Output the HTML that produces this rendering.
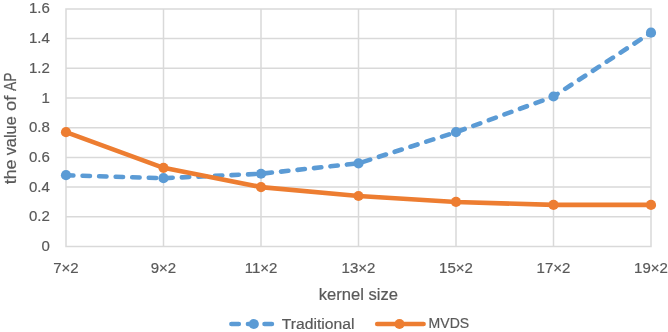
<!DOCTYPE html>
<html><head><meta charset="utf-8"><style>
html,body{margin:0;padding:0;background:#fff;width:668px;height:332px;overflow:hidden}
svg{display:block;will-change:transform}
text{font-family:"Liberation Sans",sans-serif;fill:#595959;stroke:#595959;stroke-width:0.2px}
.t15{font-size:15px}
.t16{font-size:16.6px}
.t17{font-size:17px}
.t155{font-size:15.5px}
</style></head><body>
<svg width="668" height="332" viewBox="0 0 668 332">
<rect width="668" height="332" fill="#fff"/>
<path d="M65.25 246.50H651.75 M65.25 216.80H651.75 M65.25 187.10H651.75 M65.25 157.40H651.75 M65.25 127.70H651.75 M65.25 98.00H651.75 M65.25 68.30H651.75 M65.25 38.60H651.75 M65.25 8.90H651.75 M66.00 8.90V246.50 M163.50 8.90V246.50 M261.00 8.90V246.50 M358.50 8.90V246.50 M456.00 8.90V246.50 M553.50 8.90V246.50 M651.00 8.90V246.50" stroke="#D9D9D9" stroke-width="1.5" fill="none"/>
<text x="49.8" y="251.00" text-anchor="end" class="t15">0</text>
<text x="49.8" y="221.30" text-anchor="end" class="t15">0.2</text>
<text x="49.8" y="191.60" text-anchor="end" class="t15">0.4</text>
<text x="49.8" y="161.90" text-anchor="end" class="t15">0.6</text>
<text x="49.8" y="132.20" text-anchor="end" class="t15">0.8</text>
<text x="49.8" y="102.50" text-anchor="end" class="t15">1</text>
<text x="49.8" y="72.80" text-anchor="end" class="t15">1.2</text>
<text x="49.8" y="43.10" text-anchor="end" class="t15">1.4</text>
<text x="49.8" y="13.40" text-anchor="end" class="t15">1.6</text>
<text x="66.00" y="272.8" text-anchor="middle" class="t15">7×2</text>
<text x="163.50" y="272.8" text-anchor="middle" class="t15">9×2</text>
<text x="261.00" y="272.8" text-anchor="middle" class="t15">11×2</text>
<text x="358.50" y="272.8" text-anchor="middle" class="t15">13×2</text>
<text x="456.00" y="272.8" text-anchor="middle" class="t15">15×2</text>
<text x="553.50" y="272.8" text-anchor="middle" class="t15">17×2</text>
<text x="651.00" y="272.8" text-anchor="middle" class="t15">19×2</text>
<text x="358.3" y="300.2" text-anchor="middle" class="t16">kernel size</text>
<text transform="translate(15.6 0) rotate(-90)" x="-184.30" y="0" class="t17" textLength="24.80" lengthAdjust="spacingAndGlyphs">the</text>
<text transform="translate(15.6 0) rotate(-90)" x="-155.30" y="0" class="t17" textLength="39.00" lengthAdjust="spacingAndGlyphs">value</text>
<text transform="translate(15.6 0) rotate(-90)" x="-110.90" y="0" class="t17" textLength="15.40" lengthAdjust="spacingAndGlyphs">of</text>
<text transform="translate(15.6 0) rotate(-90)" x="-91.00" y="0" class="t17" textLength="18.40" lengthAdjust="spacingAndGlyphs">AP</text>
<polyline points="66.00,175.22 163.50,178.19 261.00,173.74 358.50,163.34 456.00,132.16 553.50,96.51 651.00,32.66" fill="none" stroke="#5B9BD5" stroke-width="4.6" stroke-linecap="round" stroke-linejoin="round" stroke-dasharray="7.40 9.16"/>
<circle cx="66.00" cy="175.22" r="5.1" fill="#5B9BD5"/>
<circle cx="163.50" cy="178.19" r="5.1" fill="#5B9BD5"/>
<circle cx="261.00" cy="173.74" r="5.1" fill="#5B9BD5"/>
<circle cx="358.50" cy="163.34" r="5.1" fill="#5B9BD5"/>
<circle cx="456.00" cy="132.16" r="5.1" fill="#5B9BD5"/>
<circle cx="553.50" cy="96.51" r="5.1" fill="#5B9BD5"/>
<circle cx="651.00" cy="32.66" r="5.1" fill="#5B9BD5"/>
<polyline points="66.00,132.16 163.50,167.80 261.00,187.10 358.50,196.01 456.00,201.95 553.50,204.92 651.00,204.92" fill="none" stroke="#ED7D31" stroke-width="4.6" stroke-linecap="round" stroke-linejoin="round"/>
<circle cx="66.00" cy="132.16" r="5.1" fill="#ED7D31"/>
<circle cx="163.50" cy="167.80" r="5.1" fill="#ED7D31"/>
<circle cx="261.00" cy="187.10" r="5.1" fill="#ED7D31"/>
<circle cx="358.50" cy="196.01" r="5.1" fill="#ED7D31"/>
<circle cx="456.00" cy="201.95" r="5.1" fill="#ED7D31"/>
<circle cx="553.50" cy="204.92" r="5.1" fill="#ED7D31"/>
<circle cx="651.00" cy="204.92" r="5.1" fill="#ED7D31"/>
<path d="M231.40 324.0H280.1" stroke="#5B9BD5" stroke-width="4.6" stroke-linecap="round" stroke-dasharray="7.40 9.16" fill="none"/>
<circle cx="253.8" cy="324.0" r="5.1" fill="#5B9BD5"/>
<text x="281.8" y="328.6" class="t155" textLength="72.6" lengthAdjust="spacingAndGlyphs">Traditional</text>
<path d="M377.20 324.0H423.60" stroke="#ED7D31" stroke-width="4.6" stroke-linecap="round" fill="none"/>
<circle cx="399.5" cy="324.0" r="5.1" fill="#ED7D31"/>
<text x="428.6" y="328.1" class="t155" textLength="40.6" lengthAdjust="spacingAndGlyphs">MVDS</text>
</svg>
</body></html>
